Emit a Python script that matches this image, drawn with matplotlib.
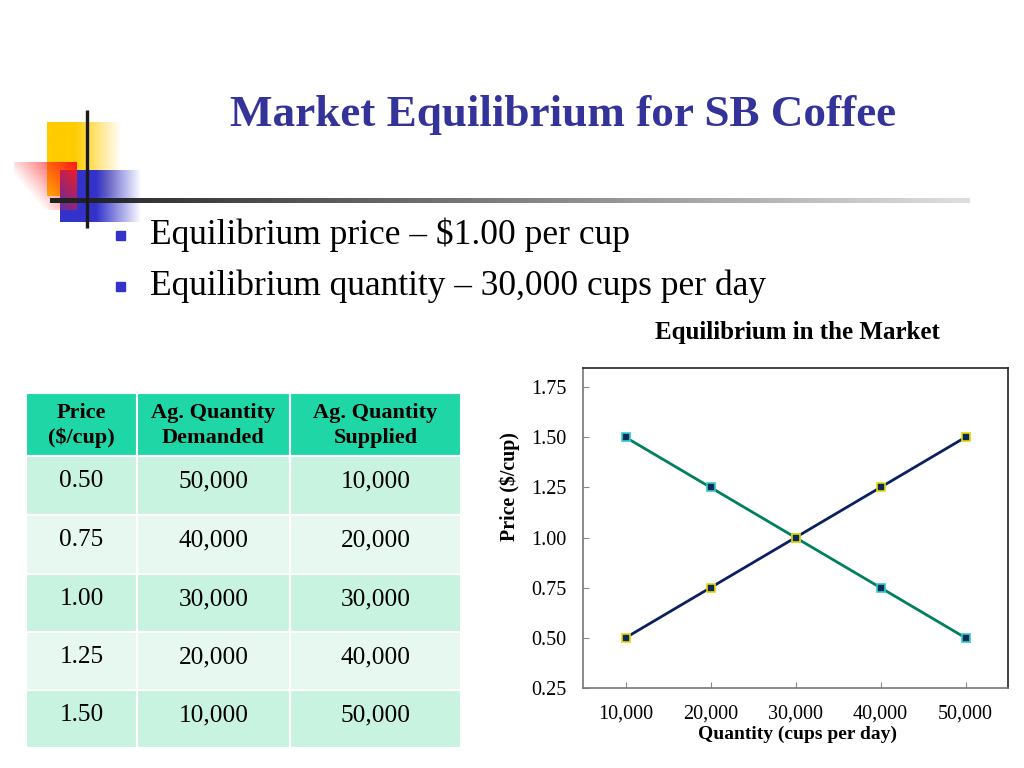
import numpy as np
import matplotlib
matplotlib.use("Agg")
import matplotlib.pyplot as plt
from matplotlib.patches import Rectangle

# table / chart data
price = [0.50, 0.75, 1.00, 1.25, 1.50]
qty_demanded = [50000, 40000, 30000, 20000, 10000]
qty_supplied = [10000, 20000, 30000, 40000, 50000]
headers = ["Price\n($/cup)", "Ag. Quantity\nDemanded", "Ag. Quantity\nSupplied"]
y_ticks = [0.25, 0.50, 0.75, 1.00, 1.25, 1.50, 1.75]
x_ticks = [10000, 20000, 30000, 40000, 50000]
bullets = ["Equilibrium price \u2013 $1.00 per cup",
           "Equilibrium quantity \u2013 30,000 cups per day"]

SERIF = ["Liberation Serif", "DejaVu Serif"]
plt.rcParams["font.family"] = SERIF

W, H = 1024, 768
fig = plt.figure(figsize=(W / 100, H / 100), dpi=100)
fig.patch.set_facecolor("white")


def fx(px):
    return px / W


def fy(py):
    return 1 - py / H


# background / decoration layer in pixel coordinates
bg = fig.add_axes([0, 0, 1, 1])
bg.set_xlim(0, W)
bg.set_ylim(H, 0)
bg.axis("off")


def grad_block(x0, x1, y0, y1, rgb, alpha, z):
    a = np.asarray(alpha, dtype=float)
    img = np.zeros(a.shape + (4,))
    img[..., :3] = rgb
    img[..., 3] = a
    bg.imshow(img, extent=(x0, x1, y1, y0), aspect="auto", zorder=z,
              interpolation="bilinear")


n = 64
t = np.linspace(0, 1, n)
# yellow: solid on the left, fading to the right
ya = np.clip(1.6 - 1.6 * t, 0, 1)[None, :].repeat(n, 0)
grad_block(47, 122, 122, 196, (1.0, 0.8, 0.0), ya, 1)
# blue: solid on the left, fading to the right
ba = np.clip(1.8 - 1.8 * t, 0, 1)[None, :].repeat(n, 0)
grad_block(60, 142, 170, 222, (0.2, 0.2, 0.8), ba, 2)
# red: strongest top-right, fading left and down
rx, ry = np.meshgrid(t, t)
ra = np.clip(0.15 + 0.85 * rx - 0.55 * ry, 0, 1)
grad_block(14, 77, 162, 210, (1.0, 0.1, 0.1), ra, 3)
# horizontal rule fading out to the right
la = np.clip(1.0 - 0.85 * t, 0, 1)[None, :].repeat(4, 0)
grad_block(50, 970, 198, 203, (0.13, 0.13, 0.13), la, 4)
bg.plot([87, 87], [110, 228], color="#1a1a1a", lw=2.4, zorder=5,
        solid_capstyle="butt")

fig.text(fx(563), fy(115), "Market Equilibrium for SB Coffee", ha="center",
         va="center", fontsize=32.5, fontweight="bold", color="#333399")

for i, line in enumerate(bullets):
    yy = 236 + 51 * i
    bg.add_patch(Rectangle((116, yy - 5), 9, 9, color="#3333cc", zorder=5))
    fig.text(fx(150), fy(yy - 1), line, ha="left", va="center",
             fontsize=25.5, color="black")

# table
col_edges = [26, 137, 290, 461]
row_edges = [393, 456, 515, 574, 632, 690, 748]
tab = fig.add_axes([fx(col_edges[0]), fy(row_edges[-1]),
                    fx(col_edges[-1] - col_edges[0]),
                    (row_edges[-1] - row_edges[0]) / H])
tab.set_xlim(col_edges[0], col_edges[-1])
tab.set_ylim(row_edges[-1], row_edges[0])
tab.axis("off")
rows = [[f"{p:.2f}", f"{d:,}", f"{s:,}"]
        for p, d, s in zip(price, qty_demanded, qty_supplied)]
all_rows = [headers] + rows
for r, vals in enumerate(all_rows):
    if r == 0:
        fc = "#1fd6a6"
    elif r % 2 == 1:
        fc = "#c8f3e1"
    else:
        fc = "#e6f8f0"
    for c, v in enumerate(vals):
        x0, x1 = col_edges[c], col_edges[c + 1]
        y0, y1 = row_edges[r], row_edges[r + 1]
        tab.add_patch(Rectangle((x0, y0), x1 - x0, y1 - y0, facecolor=fc,
                                edgecolor="white", lw=1.5))
        if r == 0:
            tab.text((x0 + x1) / 2, (y0 + y1) / 2 + 1, v, ha="center",
                     va="center", fontsize=16, fontweight="bold",
                     linespacing=1.35)
        else:
            tab.text((x0 + x1) / 2, y0 + 25, v, ha="center", va="center",
                     fontsize=18.3)

# chart
ax = fig.add_axes([fx(583), fy(688), fx(1008 - 583), (688 - 368) / H])
ax.plot(qty_demanded, price, color="#00805e", lw=2, marker="s", ms=6,
        mfc="#0a2a5c", mec="#33cccc", mew=1.2, zorder=3)
ax.plot(qty_supplied, price, color="#0a2060", lw=2, marker="s", ms=6,
        mfc="#0a2a5c", mec="#e8d800", mew=1.2, zorder=4)
ax.set_xlim(5000, 55000)
ax.set_ylim(0.25, 1.845)
ax.set_xticks(x_ticks)
ax.set_xticklabels([f"{v:,}" for v in x_ticks])
ax.set_yticks(y_ticks)
ax.set_yticklabels([f"{v:.2f}" for v in y_ticks])
ax.tick_params(direction="in", length=4, color="#888888", labelsize=14.5,
               pad=12)
ax.tick_params(axis="x", pad=12)
for side in ["top", "right"]:
    ax.spines[side].set_color("#222222")
for side in ["left", "bottom"]:
    ax.spines[side].set_color("#777777")
for sp in ax.spines.values():
    sp.set_linewidth(1.2)

fig.text(fx(797), fy(333), "Equilibrium in the Market", ha="center",
         va="center", fontsize=18, fontweight="bold")
fig.text(fx(510), fy(487), "Price ($/cup)", ha="center", va="center",
         rotation=90, fontsize=14.3, fontweight="bold")
fig.text(fx(797), fy(734), "Quantity (cups per day)", ha="center",
         va="center", fontsize=14, fontweight="bold")

fig.savefig("out.png", dpi=100)
